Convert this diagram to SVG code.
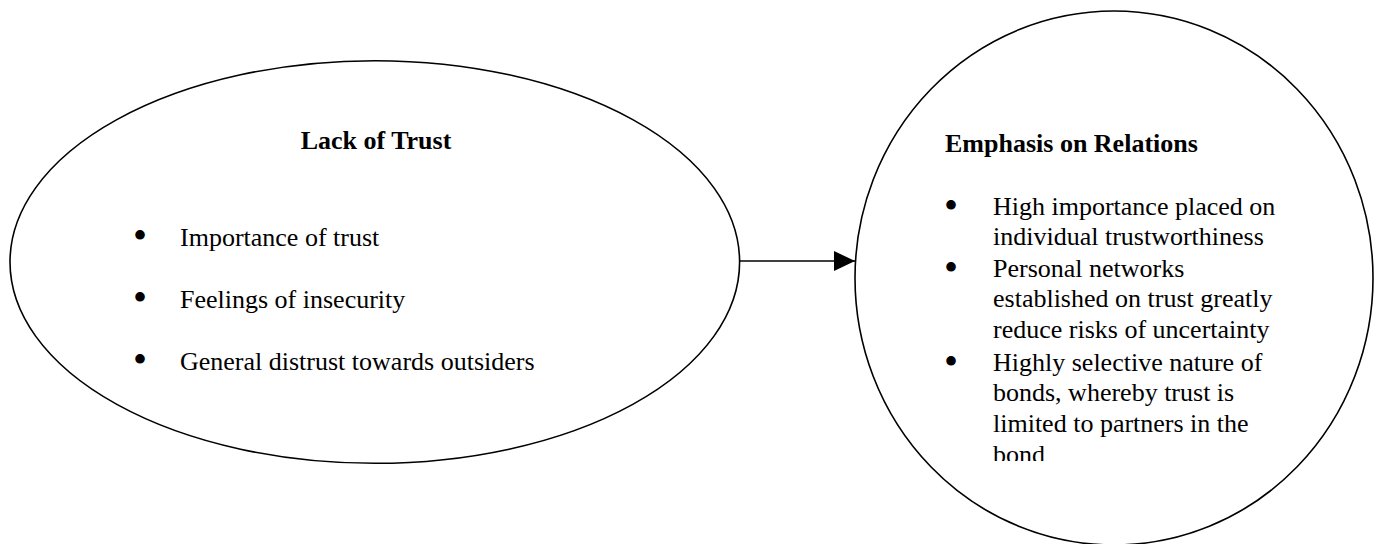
<svg xmlns="http://www.w3.org/2000/svg" width="1383" height="544" viewBox="0 0 1383 544">
  <style>
    .shape { fill: #ffffff; stroke: #000000; stroke-width: 1.6; }
    .title { font-family: "Liberation Serif", "Times New Roman", serif; font-size: 26px; font-weight: bold; fill: #000000; }
    .item { font-family: "Liberation Serif", "Times New Roman", serif; font-size: 26px; fill: #000000; }
    .bullet { font-family: "Liberation Serif", "Times New Roman", serif; font-size: 40px; fill: #000000; text-anchor: middle; }
    .link { stroke: #000000; stroke-width: 1.6; fill: none; }
  </style>
  <defs>
    <marker id="arrowhead" markerWidth="21" markerHeight="20" refX="21" refY="10" orient="auto" markerUnits="userSpaceOnUse">
      <path d="M0,0 L21,10 L0,20 Z" fill="#000000"/>
    </marker>
    <!-- text box of the right-hand node ends just above the last baseline -->
    <clipPath id="relations-box">
      <rect x="880" y="100" width="460" height="361"/>
    </clipPath>
  </defs>
  <rect width="1383" height="544" fill="#ffffff"/>

  <g id="lack-of-trust">
    <ellipse class="shape" cx="374.8" cy="262" rx="364.8" ry="201.3"/>
    <text class="title" x="376" y="149" text-anchor="middle">Lack of Trust</text>
    <text class="bullet" x="140" y="249">•</text>
    <text class="item" x="180" y="246">Importance of trust</text>
    <text class="bullet" x="140" y="311">•</text>
    <text class="item" x="180" y="308">Feelings of insecurity</text>
    <text class="bullet" x="140" y="373">•</text>
    <text class="item" x="180" y="370">General distrust towards outsiders</text>
  </g>

  <g id="emphasis-on-relations">
    <ellipse class="shape" cx="1114" cy="278" rx="259" ry="267"/>
    <g clip-path="url(#relations-box)">
      <text class="title" x="945" y="152">Emphasis on Relations</text>
      <text class="bullet" x="951" y="219">•</text>
      <text class="item" x="993" y="215">High importance placed on</text>
      <text class="item" x="993" y="245">individual trustworthiness</text>
      <text class="bullet" x="951" y="281">•</text>
      <text class="item" x="993" y="277">Personal networks</text>
      <text class="item" x="993" y="307">established on trust greatly</text>
      <text class="item" x="993" y="338">reduce risks of uncertainty</text>
      <text class="bullet" x="951" y="375">•</text>
      <text class="item" x="993" y="371">Highly selective nature of</text>
      <text class="item" x="993" y="401">bonds, whereby trust is</text>
      <text class="item" x="993" y="432">limited to partners in the</text>
      <text class="item" x="993" y="463">bond</text>
    </g>
  </g>

  <g id="connectors">
    <line class="link" x1="740" y1="261" x2="855" y2="261" marker-end="url(#arrowhead)"/>
  </g>
</svg>
